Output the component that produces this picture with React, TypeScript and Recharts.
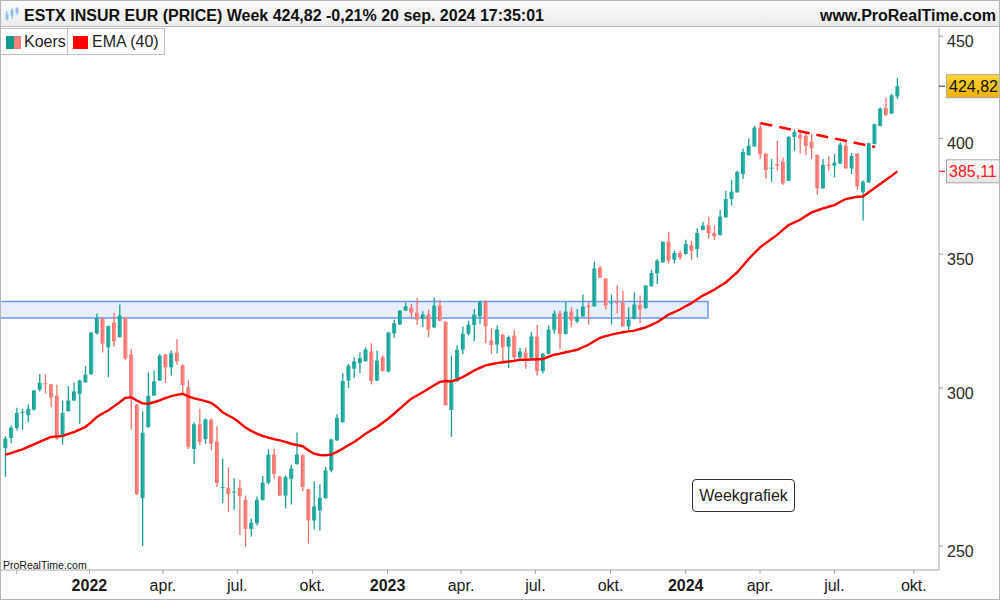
import React from 'react';
import { ComposedChart, Bar, Line, XAxis, YAxis, ReferenceArea, ReferenceLine } from 'recharts';

// Weekly candles, week of 20 sep 2021 .. week of 16 sep 2024 (157 weeks)
const opens = [
  279.9, 283.2, 286.5, 291.5, 290.7, 292.6, 299.4, 301.6, 301.2, 297.3,
  283.5, 292.1, 295.7, 298.0, 302.0, 304.8, 319.5, 325.2, 314.4, 323.5,
  318.1, 325.2, 311.8, 294.3, 264.2, 286.8, 297.4, 302.6, 311.8, 307.2,
  312.5, 307.9, 300.2, 279.6, 287.7, 282.8, 289.3, 282.0, 267.4, 267.4,
  266.0, 267.4, 263.7, 255.0, 256.7, 263.7, 268.9, 277.8, 270.9, 265.0,
  270.1, 274.8, 277.6, 266.9, 257.5, 260.5, 264.2, 272.8, 282.4, 288.4,
  302.6, 306.7, 308.7, 309.4, 312.9, 302.6, 310.8, 305.7, 319.5, 322.8,
  328.0, 329.1, 327.2, 324.8, 326.5, 321.7, 329.9, 323.8, 292.5, 302.4,
  313.5, 319.3, 322.6, 325.8, 331.2, 316.9, 315.4, 318.9, 314.6, 318.7,
  310.8, 312.5, 310.6, 318.3, 305.9, 312.0, 320.8, 326.9, 319.3, 327.6,
  323.9, 325.8, 329.9, 329.6, 344.6, 340.3, 330.8, 331.2, 331.1, 322.1,
  324.8, 330.2, 328.9, 337.3, 342.3, 346.7, 355.1, 347.8, 350.5, 350.1,
  353.7, 352.1, 360.0, 362.0, 358.7, 357.8, 365.2, 373.0, 375.9, 383.9,
  392.3, 396.3, 405.0, 393.1, 386.4, 388.3, 389.4, 380.9, 400.7, 401.7,
  401.2, 398.4, 392.5, 377.6, 388.1, 387.6, 388.6, 396.6, 386.4, 393.1,
  375.9, 380.2, 397.4, 405.8, 414.3, 411.6, 419.8,
];
const highs = [
  283.7, 287.4, 293.2, 292.9, 294.3, 299.3, 304.9, 304.7, 301.4, 301.1,
  295.7, 300.7, 301.9, 302.9, 307.7, 320.0, 326.9, 325.4, 322.4, 327.2,
  330.3, 325.6, 313.8, 294.5, 292.0, 305.4, 306.1, 312.1, 312.0, 313.2,
  317.3, 308.4, 302.8, 288.4, 292.9, 289.6, 289.6, 287.0, 276.6, 273.8,
  270.3, 269.9, 265.0, 258.0, 264.7, 271.0, 279.5, 279.7, 271.1, 271.2,
  274.6, 285.0, 277.8, 267.1, 269.4, 268.5, 273.9, 282.9, 291.0, 305.1,
  308.4, 310.8, 312.6, 314.4, 315.9, 313.2, 311.4, 319.9, 324.6, 328.2,
  331.0, 330.5, 332.8, 327.7, 328.4, 333.0, 332.0, 324.0, 311.4, 315.1,
  322.0, 324.2, 328.6, 331.8, 332.0, 321.5, 322.4, 319.3, 318.7, 320.8,
  314.2, 314.4, 320.0, 322.7, 312.3, 322.4, 328.0, 328.0, 331.2, 329.2,
  328.6, 334.1, 331.2, 347.0, 345.4, 340.5, 334.1, 337.7, 335.6, 329.2,
  334.9, 333.7, 337.7, 343.8, 348.1, 355.2, 359.2, 351.4, 351.4, 355.9,
  355.5, 360.6, 363.4, 365.2, 361.7, 368.3, 376.6, 381.2, 385.4, 395.4,
  400.0, 405.8, 407.4, 393.2, 390.6, 398.9, 391.3, 401.2, 404.0, 402.7,
  402.7, 402.0, 392.6, 390.6, 392.0, 392.8, 398.1, 398.9, 393.3, 393.2,
  381.2, 398.0, 406.8, 414.5, 419.3, 421.2, 428.9,
];
const lows = [
  270.7, 281.5, 285.7, 285.9, 288.4, 292.3, 298.8, 298.0, 293.4, 282.6,
  281.0, 291.9, 295.5, 287.9, 301.7, 304.5, 319.1, 312.5, 303.7, 314.6,
  318.0, 309.9, 285.9, 265.1, 250.0, 286.5, 297.2, 302.4, 301.7, 304.3,
  308.1, 298.0, 279.6, 274.8, 280.9, 281.3, 279.2, 267.6, 262.7, 260.0,
  260.7, 253.2, 249.8, 252.7, 256.0, 263.5, 268.4, 270.2, 264.9, 261.0,
  262.3, 274.6, 266.3, 250.7, 254.8, 254.6, 264.0, 272.2, 282.2, 288.2,
  300.0, 303.5, 305.2, 309.2, 301.2, 302.4, 305.7, 305.4, 317.9, 322.6,
  327.8, 325.2, 322.7, 321.7, 318.1, 321.5, 324.0, 294.0, 283.5, 302.0,
  312.0, 318.7, 316.6, 322.9, 315.9, 312.0, 312.2, 308.9, 307.0, 309.0,
  309.6, 306.7, 310.2, 304.3, 305.0, 311.8, 319.3, 313.8, 319.1, 321.7,
  323.2, 325.6, 322.7, 329.4, 340.5, 328.4, 322.8, 326.9, 321.9, 320.5,
  324.7, 323.2, 328.7, 337.1, 338.2, 346.6, 346.3, 346.3, 347.7, 349.8,
  347.7, 348.7, 359.8, 356.2, 355.8, 357.6, 365.0, 370.2, 375.8, 381.7,
  392.2, 396.1, 390.6, 381.7, 380.5, 385.4, 379.1, 380.7, 394.3, 393.1,
  392.3, 390.6, 374.8, 377.4, 385.4, 382.4, 388.4, 386.2, 383.9, 377.0,
  363.8, 380.0, 397.3, 405.7, 410.5, 411.5, 418.6,
];
const closes = [
  283.0, 286.6, 291.5, 291.8, 292.9, 299.1, 301.8, 301.3, 296.6, 283.0,
  291.5, 295.7, 298.8, 302.6, 304.7, 319.8, 325.2, 315.7, 322.2, 316.6,
  326.1, 310.4, 297.1, 265.5, 284.9, 297.3, 302.3, 311.4, 307.2, 312.2,
  309.4, 301.0, 280.3, 287.7, 281.9, 289.3, 281.3, 268.9, 267.6, 265.5,
  266.2, 264.8, 255.0, 256.9, 263.7, 269.0, 277.8, 271.7, 265.0, 270.7,
  273.4, 277.8, 267.6, 257.5, 261.7, 264.3, 272.8, 282.7, 289.8, 302.4,
  307.8, 309.3, 310.5, 313.6, 302.4, 309.6, 305.9, 319.8, 323.2, 328.0,
  329.6, 327.2, 324.6, 326.5, 320.8, 329.9, 324.2, 294.1, 302.4, 313.5,
  319.3, 322.7, 326.5, 331.2, 322.1, 315.2, 320.9, 314.4, 318.1, 310.8,
  312.9, 310.6, 318.3, 305.9, 312.0, 320.9, 326.9, 319.3, 327.6, 324.2,
  325.7, 329.5, 329.2, 344.3, 340.7, 329.9, 331.1, 330.8, 322.1, 324.6,
  330.3, 328.4, 337.6, 342.5, 347.4, 355.1, 347.4, 350.5, 348.7, 354.1,
  351.4, 358.7, 361.7, 358.5, 357.3, 365.5, 373.0, 376.2, 384.9, 393.8,
  396.6, 405.0, 392.8, 385.7, 386.7, 387.6, 379.8, 400.7, 403.0, 400.0,
  396.6, 395.4, 377.6, 388.0, 387.6, 389.0, 397.1, 386.4, 392.0, 378.5,
  380.5, 397.8, 406.6, 414.0, 411.0, 420.4, 424.82,
];
const emaValues = [
  277.8, 278.3, 278.9, 279.5, 280.3, 281.1, 281.9, 282.7, 283.5, 283.7,
  283.8, 284.5, 285.1, 285.9, 286.8, 288.3, 290.1, 291.3, 292.3, 293.7,
  295.1, 296.6, 296.8, 295.7, 294.7, 294.6, 295.1, 295.7, 296.5, 297.2,
  297.6, 298.0, 297.1, 296.4, 296.0, 295.5, 294.9, 293.5, 291.7, 290.6,
  289.6, 288.2, 286.6, 285.5, 284.6, 283.9, 283.3, 282.8, 282.4, 281.9,
  281.3, 280.9, 280.5, 279.2, 278.1, 277.7, 277.6, 277.8, 278.7, 279.7,
  280.8, 281.9, 283.2, 284.6, 285.7, 286.8, 288.2, 289.6, 291.2, 292.9,
  294.6, 296.3, 297.4, 298.5, 299.7, 300.9, 302.1, 302.4, 302.3, 302.9,
  303.8, 304.9, 306.1, 307.0, 307.9, 308.3, 308.7, 309.0, 309.3, 309.5,
  309.9, 309.9, 310.0, 310.1, 310.2, 310.9, 311.7, 312.1, 312.6, 313.0,
  313.5, 314.4, 315.3, 316.6, 317.8, 318.5, 319.0, 319.5, 319.9, 320.2,
  320.5, 321.1, 321.7, 322.6, 323.6, 325.0, 326.5, 327.4, 328.4, 329.6,
  330.8, 332.3, 333.7, 334.8, 336.0, 337.4, 338.8, 340.8, 342.7, 345.4,
  348.1, 350.4, 352.8, 354.5, 356.2, 357.9, 360.0, 362.0, 363.1, 364.2,
  365.8, 367.3, 368.1, 369.0, 369.7, 370.4, 371.7, 373.0, 373.5, 374.0,
  374.1, 375.9, 377.7, 379.5, 381.3, 383.1, 385.11,
];

// x tick positions (week index of month start) and labels
const xTickPos = [2.0, 14.71, 27.57, 40.57, 53.71, 66.86, 79.71, 92.71, 105.86, 119.0, 132.0, 145.0, 158.9];
const xTickLabels = ['', '2022', 'apr.', 'jul.', 'okt.', '2023', 'apr.', 'jul.', 'okt.', '2024', 'apr.', 'jul.', 'okt.'];
const yTickValues = [250, 300, 350, 400, 450];
const lastPrice = 424.82;
const lastEma = 385.11;
const xDomain = [-0.927, 163.3];
const yDomain = [243.2, 454.3];
const zone = { x1: -0.927, x2: 122.9, y1: 325.2, y2: 331.4 };
const trendLine = [{ x: 132.1, y: 407.1 }, { x: 152.1, y: 396.1 }];

const data = opens.map((o, i) => ({
  i,
  o,
  h: highs[i],
  l: lows[i],
  c: closes[i],
  hl: [lows[i], highs[i]],
  ema: emaValues[i],
}));

const FONT = '"Liberation Sans", Arial, Helvetica, sans-serif';
const TEAL_W = '#17a097';
const RED_W = '#f46f6b';

function Candle(props: any) {
  const { x, y, width, height, payload } = props;
  if (!payload || x == null || y == null) return null;
  const { o, h, l, c } = payload;
  const top = Math.min(y, y + height);
  const bot = Math.max(y, y + height);
  const lh = Math.log(h);
  const ll = Math.log(l);
  const py = (v: number) => top + ((lh - Math.log(v)) / (lh - ll)) * (bot - top);
  const up = c >= o;
  const yo = py(o);
  const yc = py(c);
  const bt = Math.min(yo, yc);
  const bh = Math.max(1, Math.abs(yo - yc));
  const cx = x + width / 2;
  return (
    <g>
      <line x1={cx} x2={cx} y1={top} y2={bot} stroke={up ? TEAL_W : RED_W} strokeWidth={1.3} />
      <rect x={x} y={bt} width={width} height={bh} fill={up ? 'url(#gUp)' : 'url(#gDn)'} />
    </g>
  );
}

function XTick(props: any) {
  const { x, payload } = props;
  const idx = xTickPos.indexOf(payload.value);
  const label = idx >= 0 ? xTickLabels[idx] : '';
  const bold = /^\d{4}$/.test(label);
  return (
    <text x={x} y={591} textAnchor="middle" fontFamily={FONT} fontSize={16} fontWeight={bold ? 700 : 400} fill="#1a1a1a">
      {label}
    </text>
  );
}

const fmt = (v: number) => v.toFixed(2).replace('.', ',');

function YTick(props: any) {
  const { y, payload } = props;
  const v = payload.value;
  const ax = 939;
  if (v === lastPrice) {
    return (
      <g>
        <line x1={ax} x2={ax + 6} y1={y} y2={y} stroke="#333" />
        <rect x={946.5} y={y - 11.5} width={54} height={23} fill="url(#gGold)" stroke="#a8a8a8" />
        <text x={949} y={y + 6} fontFamily={FONT} fontSize={16} fill="#111">{fmt(v)}</text>
      </g>
    );
  }
  if (v === lastEma) {
    return (
      <g>
        <line x1={ax} x2={ax + 6} y1={y} y2={y} stroke="#ff0000" />
        <rect x={946.5} y={y - 11.5} width={53} height={23} fill="url(#gGray)" stroke="#a8a8a8" />
        <text x={949} y={y + 6} fontFamily={FONT} fontSize={16} fill="#ff1a1a">{fmt(v)}</text>
      </g>
    );
  }
  return (
    <g>
      <line x1={ax} x2={ax + 4} y1={y} y2={y} stroke="#a0a0a0" />
      <text x={947} y={y + 11} fontFamily={FONT} fontSize={16} fill="#2a2a2a">{String(v)}</text>
    </g>
  );
}

export default function App() {
  return (
    <div style={{ position: 'fixed', left: 0, top: 0, width: 1000, height: 600, background: '#fff', overflow: 'hidden', fontFamily: FONT }}>
      <svg width={0} height={0} style={{ position: 'absolute' }}>
        <defs>
          <linearGradient id="gUp" x1="0" y1="0" x2="1" y2="0">
            <stop offset="0" stopColor="#0f978e" />
            <stop offset="1" stopColor="#36bcb2" />
          </linearGradient>
          <linearGradient id="gDn" x1="0" y1="0" x2="1" y2="0">
            <stop offset="0" stopColor="#f26461" />
            <stop offset="1" stopColor="#ff9b96" />
          </linearGradient>
          <linearGradient id="gGold" x1="0" y1="0" x2="0" y2="1">
            <stop offset="0" stopColor="#ffd633" />
            <stop offset="1" stopColor="#f0b000" />
          </linearGradient>
          <linearGradient id="gGray" x1="0" y1="0" x2="0" y2="1">
            <stop offset="0" stopColor="#ffffff" />
            <stop offset="1" stopColor="#e4e4e4" />
          </linearGradient>
        </defs>
      </svg>
      <div style={{ position: 'absolute', left: 0, top: 0 }}>
        <ComposedChart width={1000} height={600} data={data} margin={{ top: 28, right: 0, bottom: 0, left: 0 }}>
          <ReferenceArea
            x1={zone.x1}
            x2={zone.x2}
            y1={zone.y1}
            y2={zone.y2}
            fill="#e7eefd"
            fillOpacity={1}
            stroke="#6b98f0"
            strokeWidth={1.5}
            ifOverflow="visible"
          />
          <XAxis
            type="number"
            dataKey="i"
            domain={xDomain}
            allowDataOverflow
            ticks={xTickPos}
            interval={0}
            height={30}
            tickSize={4}
            tickLine={{ stroke: '#a8a8a8' }}
            axisLine={{ stroke: '#a8a8a8' }}
            tick={<XTick />}
          />
          <YAxis
            orientation="right"
            scale="log"
            type="number"
            domain={yDomain}
            allowDataOverflow
            ticks={[...yTickValues, lastPrice, lastEma]}
            interval={0}
            width={61}
            tickLine={false}
            axisLine={{ stroke: '#a8a8a8' }}
            tick={<YTick />}
          />
          <Bar dataKey="hl" barSize={4} isAnimationActive={false} shape={(p: any) => <Candle {...p} />} />
          <Line
            dataKey="ema"
            type="linear"
            stroke="#ff0000"
            strokeWidth={2.4}
            dot={false}
            activeDot={false}
            isAnimationActive={false}
          />
          <ReferenceLine
            segment={trendLine}
            stroke="#ff0000"
            strokeWidth={2.5}
            strokeDasharray="12 7"
            ifOverflow="visible"
          />
        </ComposedChart>
      </div>

      {/* title bar */}
      <div
        style={{
          position: 'absolute', left: 0, top: 0, width: 1000, height: 27,
          background: 'linear-gradient(#fbfbfb, #ececec)', borderBottom: '1px solid #b8b8b8', boxSizing: 'border-box',
        }}
      >
        <svg width={16} height={18} style={{ position: 'absolute', left: 4, top: 6 }}>
          <line x1={3} x2={3} y1={5} y2={15} stroke="#7fb3e6" />
          <rect x={1.5} y={8} width={3} height={5} fill="#8cc0ee" />
          <line x1={8} x2={8} y1={2} y2={13} stroke="#7fb3e6" />
          <rect x={6.5} y={4} width={3} height={6} fill="#8cc0ee" />
          <line x1={13} x2={13} y1={1} y2={9} stroke="#7fb3e6" />
          <rect x={11.5} y={2} width={3} height={5} fill="#8cc0ee" />
        </svg>
        <div style={{ position: 'absolute', left: 24, top: 7, fontSize: 16, fontWeight: 700, lineHeight: '18px', color: '#111', whiteSpace: 'nowrap' }}>
          ESTX INSUR EUR (PRICE) Week 424,82 -0,21% 20 sep. 2024 17:35:01
        </div>
        <div style={{ position: 'absolute', right: 4, top: 7, fontSize: 16, fontWeight: 700, lineHeight: '18px', color: '#111', whiteSpace: 'nowrap' }}>
          www.ProRealTime.com
        </div>
      </div>

      {/* legend */}
      <div style={{ position: 'absolute', left: 0, top: 28, width: 68, height: 27, border: '1px solid #c0c0c0', boxSizing: 'border-box', background: '#fff' }}>
        <div style={{ position: 'absolute', left: 5, top: 7, width: 7.5, height: 13, background: '#139a91' }} />
        <div style={{ position: 'absolute', left: 12.5, top: 7, width: 7.5, height: 13, background: '#fa807c' }} />
        <div style={{ position: 'absolute', left: 23, top: 4, fontSize: 16, lineHeight: '18px', color: '#222' }}>Koers</div>
      </div>
      <div style={{ position: 'absolute', left: 67, top: 28, width: 98, height: 27, border: '1px solid #c0c0c0', boxSizing: 'border-box', background: '#fff' }}>
        <div style={{ position: 'absolute', left: 5, top: 7, width: 15, height: 13, background: '#ff0000' }} />
        <div style={{ position: 'absolute', left: 24, top: 4, fontSize: 16, lineHeight: '18px', color: '#222', whiteSpace: 'nowrap' }}>EMA (40)</div>
      </div>

      {/* annotation box */}
      <div
        style={{
          position: 'absolute', left: 692, top: 479, width: 103, height: 33, border: '1px solid #333', borderRadius: 4,
          boxSizing: 'border-box', background: '#fff', fontSize: 16, lineHeight: '31px', textAlign: 'center', color: '#222',
        }}
      >
        Weekgrafiek
      </div>

      {/* bottom-left credit */}
      <div style={{ position: 'absolute', left: 3, top: 559, fontSize: 10.5, lineHeight: '12px', color: '#111' }}>ProRealTime.com</div>

      {/* frame */}
      <div style={{ position: 'absolute', left: 0, top: 0, width: 1000, height: 600, border: '1px solid #b4b4b4', boxSizing: 'border-box', pointerEvents: 'none' }} />
    </div>
  );
}
